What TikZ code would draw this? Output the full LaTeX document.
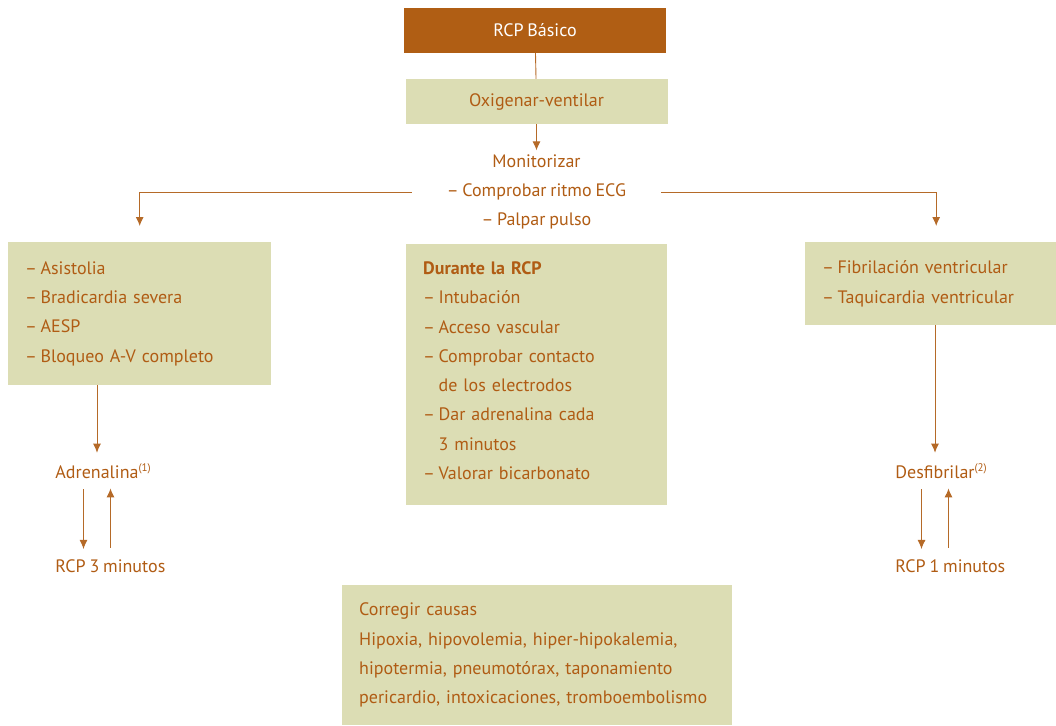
\documentclass[tikz,border=0pt]{standalone}
\usepackage{fontspec}
\setmainfont[WordSpace=0.8]{PT Sans}
\usetikzlibrary{arrows.meta}
\definecolor{brown}{HTML}{B05E14}
\definecolor{ink}{HTML}{B05C14}
\definecolor{sage}{HTML}{DCDDB4}
\definecolor{wire}{HTML}{B56A28}
\newcommand{\dsh}{–\hspace{3.5pt}}
\newcommand{\hang}{\phantom{–}\hspace{3.5pt}}

\begin{document}
\begin{tikzpicture}[x=1pt,y=-1pt,
  font=\fontsize{18}{29.3}\selectfont, text=ink,
  darkbox/.style={fill=brown, text=white, minimum width=262pt, minimum height=45pt},
  sagebox/.style={fill=sage, anchor=north west, align=left, inner xsep=17pt, inner ysep=0pt},
  txt/.style={inner sep=0pt},
  wire/.style={draw=wire, line width=0.9pt},
  arr/.style={wire, -{Latex[length=9pt,width=8pt]}}]
\useasboundingbox (0,0) rectangle (1056,725);
\node[darkbox] (rcp) at (535,30.5) {RCP Básico};
\node[fill=sage, minimum width=262pt, minimum height=45pt] (oxi) at (536.5,101.5) {Oxigenar-ventilar};
\node[txt, align=center, minimum width=249pt] (moni) at (536.5,192) {Monitorizar\\\dsh Comprobar ritmo ECG\\\dsh Palpar pulso};
% ramas
\node[sagebox, text width=229pt, minimum height=143pt] (asys) at (8,242)
  {\dsh Asistolia\\\dsh Bradicardia severa\\\dsh AESP\\\dsh Bloqueo A-V completo};
\node[sagebox, text width=227pt, minimum height=261pt] (rcpd) at (406,244)
  {\textbf{Durante la RCP}\\\dsh Intubación\\\dsh Acceso vascular\\\dsh Comprobar contacto\\\hang de los electrodos\\\dsh Dar adrenalina cada\\\hang 3 minutos\\\dsh Valorar bicarbonato\\[-21pt]\mbox{}};
\node[sagebox, text width=228pt, minimum height=83pt] (fv) at (805,242)
  {\dsh Fibrilación ventricular\\\dsh Taquicardia ventricular};
\node[sagebox, text width=356pt, minimum height=140pt] (causas) at (342,585)
  {Corregir causas\\Hipoxia, hipovolemia, hiper-hipokalemia,\\hipotermia, pneumotórax, taponamiento\\pericardio, intoxicaciones, tromboembolismo};
% bucles
\node[txt, anchor=base] (adr) at (97,478) {Adrenalina\rlap{\textsuperscript{\fontsize{11}{11}\selectfont(1)}}};
\node[txt, anchor=base west] (rcpa) at ([yshift=-94pt]adr.base west) {RCP 3 minutos};
\node[txt, anchor=base] (desf) at (935,478) {Desfibrilar\rlap{\textsuperscript{\fontsize{11}{11}\selectfont(2)}}};
\node[txt, anchor=base west] (rcpb) at ([yshift=-94pt]desf.base west) {RCP 1 minutos};

\draw[wire] (rcp) -- (oxi);
\draw[arr, shorten >=4pt] (oxi) -- (moni);
\draw[arr, shorten >=16pt] (moni.west) -| (asys.north);
\draw[arr, shorten >=16pt] (moni.east) -| (fv.north);
\draw[arr, shorten >=11pt] (asys.south -| adr.north) -- (adr.north);
\draw[arr, shorten >=11pt] (fv.south -| desf.north) -- (desf.north);
\draw[arr, shorten <=11pt, shorten >=10pt] ([xshift=-13.5pt]adr.south) -- ([xshift=-13.5pt]adr.south |- rcpa.north);
\draw[arr, shorten <=11pt, shorten >=10pt] ([xshift=13.5pt]adr.south |- rcpa.north) -- ([xshift=13.5pt]adr.south);
\draw[arr, shorten <=11pt, shorten >=10pt] ([xshift=-13.5pt]desf.south) -- ([xshift=-13.5pt]desf.south |- rcpb.north);
\draw[arr, shorten <=11pt, shorten >=10pt] ([xshift=13.5pt]desf.south |- rcpb.north) -- ([xshift=13.5pt]desf.south);
\end{tikzpicture}
\end{document}
